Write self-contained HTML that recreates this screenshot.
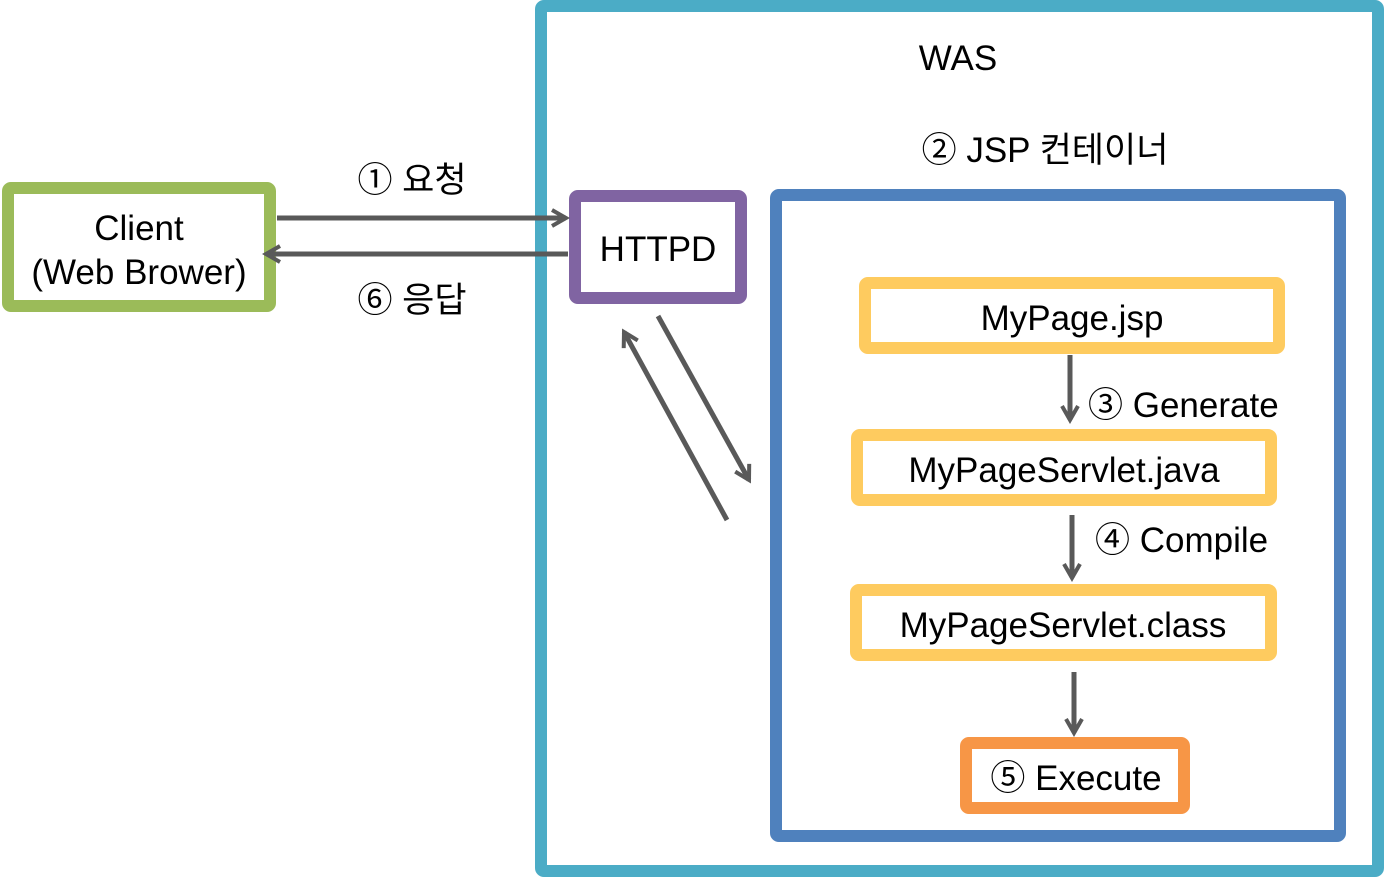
<!DOCTYPE html>
<html><head><meta charset="utf-8"><style>
html,body{margin:0;padding:0;background:#fff;}
svg{display:block;}
text{font-family:"Liberation Sans","Noto Sans CJK KR",sans-serif;fill:#000;}
</style></head><body>
<svg width="1385" height="877" viewBox="0 0 1385 877" xmlns="http://www.w3.org/2000/svg">
<defs>
<marker id="ah" viewBox="0 0 10 10" refX="8" refY="5" markerWidth="4" markerHeight="4" orient="auto" markerUnits="strokeWidth">
<path d="M1,1 L8,5 L1,9" fill="none" stroke="#595959" stroke-width="2"/>
</marker>
</defs>
<rect x="541" y="6" width="837" height="865" rx="3" fill="#fff" stroke="#4BACC6" stroke-width="12"/>
<rect x="8" y="188" width="262" height="118" rx="3" fill="#fff" stroke="#9BBB59" stroke-width="12"/>
<rect x="575" y="196" width="166" height="102" rx="3" fill="#fff" stroke="#8064A2" stroke-width="12"/>
<rect x="776" y="195" width="564" height="641" rx="3" fill="#fff" stroke="#4F81BD" stroke-width="12"/>
<rect x="865" y="283" width="414" height="65" rx="3" fill="#fff" stroke="#FECB5F" stroke-width="12"/>
<rect x="857" y="435" width="414" height="65" rx="3" fill="#fff" stroke="#FECB5F" stroke-width="12"/>
<rect x="856" y="590" width="415" height="65" rx="3" fill="#fff" stroke="#FECB5F" stroke-width="12"/>
<rect x="966" y="743" width="218" height="65" rx="3" fill="#fff" stroke="#F79646" stroke-width="12"/>
<g stroke="#595959" stroke-width="5" fill="none" marker-end="url(#ah)">
<line x1="277" y1="218" x2="566" y2="218"/>
<line x1="568" y1="254" x2="266" y2="254"/>
<line x1="658" y1="316" x2="749" y2="480"/>
<line x1="727" y1="520" x2="624" y2="332"/>
<line x1="1070" y1="355" x2="1070" y2="420"/>
<line x1="1072" y1="515" x2="1072" y2="578"/>
<line x1="1074" y1="672" x2="1074" y2="733"/>
</g>
<g font-size="35">
<text x="958" y="70" text-anchor="middle">WAS</text>
<text x="1045" y="162" text-anchor="middle">② JSP 컨테이너</text>
<text x="139" y="240" text-anchor="middle">Client</text>
<text x="139" y="284" text-anchor="middle">(Web Brower)</text>
<text x="412" y="192" text-anchor="middle">① 요청</text>
<text x="412" y="312" text-anchor="middle">⑥ 응답</text>
<text x="658" y="261" text-anchor="middle">HTTPD</text>
<text x="1072" y="330" text-anchor="middle">MyPage.jsp</text>
<text x="1064" y="482" text-anchor="middle">MyPageServlet.java</text>
<text x="1063" y="637" text-anchor="middle">MyPageServlet.class</text>
<text x="1076" y="790" text-anchor="middle">⑤ Execute</text>
<text x="1088" y="417">③ Generate</text>
<text x="1095" y="552">④ Compile</text>
</g>
</svg>
</body></html>
